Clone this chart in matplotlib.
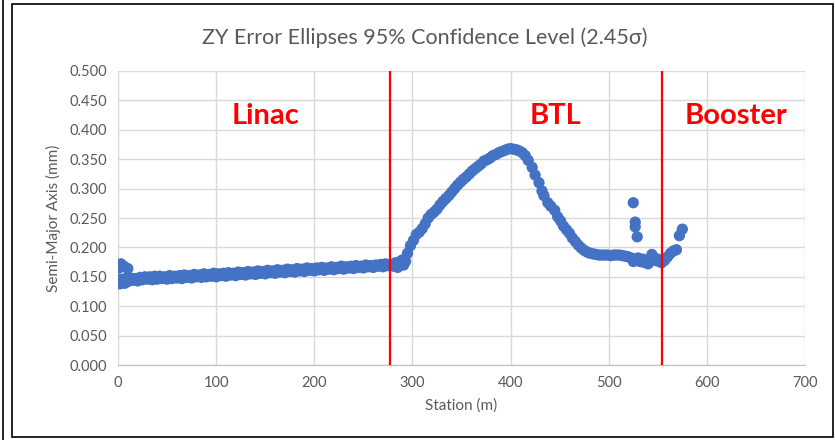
import matplotlib
matplotlib.use("Agg")
import matplotlib.pyplot as plt
from matplotlib.patches import Rectangle
from matplotlib.lines import Line2D

plt.rcParams['font.family'] = ['Lato', 'DejaVu Sans']

# Linac (main band)
linac_x = [0, 5, 10, 15, 20, 25, 30, 35, 40, 45, 50, 55, 60, 65, 70, 75, 80, 85, 90, 95,
           100, 105, 110, 115, 120, 125, 130, 135, 140, 145, 150, 155, 160, 165, 170, 175,
           180, 185, 190, 195, 200, 205, 210, 215, 220, 225, 230, 235, 240, 245, 250, 255,
           260, 265, 270, 275]
linac_y = [0.141, 0.143, 0.142, 0.144, 0.143, 0.145, 0.146, 0.145, 0.146, 0.147, 0.146, 0.147,
           0.148, 0.147, 0.149, 0.148, 0.150, 0.149, 0.150, 0.151, 0.150, 0.152, 0.151, 0.153,
           0.152, 0.154, 0.153, 0.155, 0.154, 0.156, 0.155, 0.157, 0.156, 0.158, 0.157, 0.159,
           0.158, 0.160, 0.159, 0.161, 0.160, 0.162, 0.161, 0.163, 0.162, 0.164, 0.163, 0.165,
           0.164, 0.166, 0.165, 0.167, 0.166, 0.168, 0.167, 0.169]
# Linac (upper scatter)
linac2_x = [2.5, 7.5, 12.5, 17.5, 22.5, 27.5, 32.5, 37.5, 42.5, 47.5, 52.5, 57.5, 62.5, 67.5,
            72.5, 77.5, 82.5, 87.5, 92.5, 97.5, 102.5, 107.5, 112.5, 117.5, 122.5, 127.5,
            132.5, 137.5, 142.5, 147.5, 152.5, 157.5, 162.5, 167.5, 172.5, 177.5, 182.5,
            187.5, 192.5, 197.5, 202.5, 207.5, 212.5, 217.5, 222.5, 227.5, 232.5, 237.5,
            242.5, 247.5, 252.5, 257.5, 262.5, 267.5, 272.5]
linac2_y = [0.146, 0.147, 0.148, 0.147, 0.149, 0.150, 0.150, 0.151, 0.151, 0.150, 0.152, 0.151,
            0.152, 0.153, 0.152, 0.154, 0.153, 0.155, 0.154, 0.156, 0.155, 0.156, 0.157, 0.156,
            0.158, 0.157, 0.159, 0.158, 0.160, 0.159, 0.161, 0.160, 0.162, 0.161, 0.163, 0.162,
            0.164, 0.163, 0.165, 0.164, 0.165, 0.166, 0.165, 0.167, 0.166, 0.168, 0.167, 0.168,
            0.169, 0.168, 0.170, 0.169, 0.170, 0.171, 0.172]
# Start-of-line outliers
start_x = [1, 3, 6, 10, 2, 7]
start_y = [0.165, 0.172, 0.168, 0.164, 0.138, 0.139]
# Transition near Linac/BTL boundary
trans_x = [278, 281, 283, 285, 287, 289, 291, 293]
trans_y = [0.170, 0.168, 0.174, 0.166, 0.172, 0.178, 0.170, 0.176]
# BTL
btl_x = [292, 295, 298, 301, 304, 307, 310, 313, 316, 319, 322, 325, 328, 331, 334, 337, 340,
         343, 346, 349, 352, 355, 358, 361, 364, 367, 370, 373, 376, 379, 382, 385, 388, 391,
         394, 397, 400, 403, 406, 409, 412, 415, 418, 422, 425, 429, 432, 434, 438, 441, 445,
         448, 451, 454, 457, 460, 463, 466, 469, 472, 475, 478, 481, 484, 487, 490, 493, 496,
         499, 502, 505, 508, 511, 514, 517, 520, 523, 526, 529, 532, 535, 538, 541, 544, 546,
         548, 551, 525, 530, 535, 540, 545, 550]
btl_y = [0.180, 0.190, 0.203, 0.212, 0.222, 0.226, 0.232, 0.240, 0.250, 0.256, 0.260, 0.265,
         0.272, 0.278, 0.283, 0.288, 0.294, 0.300, 0.306, 0.311, 0.316, 0.320, 0.325, 0.330,
         0.334, 0.338, 0.342, 0.347, 0.349, 0.352, 0.356, 0.358, 0.361, 0.363, 0.365, 0.367,
         0.368, 0.367, 0.366, 0.364, 0.361, 0.356, 0.348, 0.336, 0.323, 0.310, 0.296, 0.288,
         0.276, 0.270, 0.263, 0.252, 0.245, 0.236, 0.230, 0.224, 0.216, 0.210, 0.204, 0.199,
         0.195, 0.192, 0.190, 0.189, 0.188, 0.187, 0.187, 0.187, 0.187, 0.186, 0.187, 0.187,
         0.187, 0.186, 0.185, 0.184, 0.182, 0.180, 0.178, 0.176, 0.175, 0.177, 0.174, 0.188,
         0.182, 0.178, 0.176, 0.176, 0.182, 0.180, 0.172, 0.178, 0.180]
# BTL outliers
outl_x = [525, 527, 527, 529]
outl_y = [0.276, 0.243, 0.235, 0.218]
# Booster
boost_x = [554, 557, 560, 563, 566, 569, 572, 575]
boost_y = [0.174, 0.178, 0.184, 0.190, 0.194, 0.196, 0.220, 0.231]

boundaries = [277, 554]
region_labels = ["Linac", "BTL", "Booster"]
region_label_x = [150, 446, 630]

xs = linac_x + linac2_x + start_x + trans_x + btl_x + outl_x + boost_x
ys = linac_y + linac2_y + start_y + trans_y + btl_y + outl_y + boost_y

fig = plt.figure(figsize=(8.35, 4.4), dpi=100)
fig.patch.set_facecolor('white')

# frame borders
fig.patches.append(Rectangle((12/835, 3/440), (833-12)/835, (436-3)/440, transform=fig.transFigure,
                             fill=False, edgecolor='black', linewidth=1.2))
fig.lines.append(Line2D([3/835, 3/835], [0, 1], transform=fig.transFigure, color='black', lw=1.2))

ax = fig.add_axes([118/835, 1-365/440, (805-118)/835, (365-71)/440])
ax.scatter(xs, ys, s=66, color='#4472C4', edgecolors='none', zorder=3)

for b in boundaries:
    ax.axvline(b, color='#FF0000', lw=1.6, zorder=4)

for lab, lx in zip(region_labels, region_label_x):
    ax.text(lx, 0.423, lab, color='#FF0000', fontsize=21, fontweight='bold',
            ha='center', va='center', zorder=5)

ax.set_xlim(0, 700)
ax.set_ylim(0, 0.5)
ax.set_xticks(range(0, 701, 100))
ax.set_yticks([i * 0.05 for i in range(11)])
ax.set_yticklabels([f"{i*0.05:.3f}" for i in range(11)])
ax.grid(True, color='#D9D9D9', lw=1.0, zorder=0)
ax.set_axisbelow(True)
for sp in ['top', 'right', 'left']:
    ax.spines[sp].set_visible(False)
ax.spines['bottom'].set_color('#BFBFBF')
ax.tick_params(axis='both', length=0, colors='#595959', labelsize=10.5)
ax.tick_params(axis='x', pad=8)
ax.tick_params(axis='y', pad=8)

ax.set_xlabel('Station (m)', color='#595959', fontsize=11, labelpad=6)
ax.set_ylabel('Semi-Major Axis (mm)', color='#595959', fontsize=11, labelpad=6)
fig.text(425/835, 1-38/440, 'ZY Error Ellipses 95% Confidence Level (2.45σ)', color='#595959',
         fontsize=15.5, ha='center', va='center')

fig.savefig('out.png', dpi=100, facecolor='white')
